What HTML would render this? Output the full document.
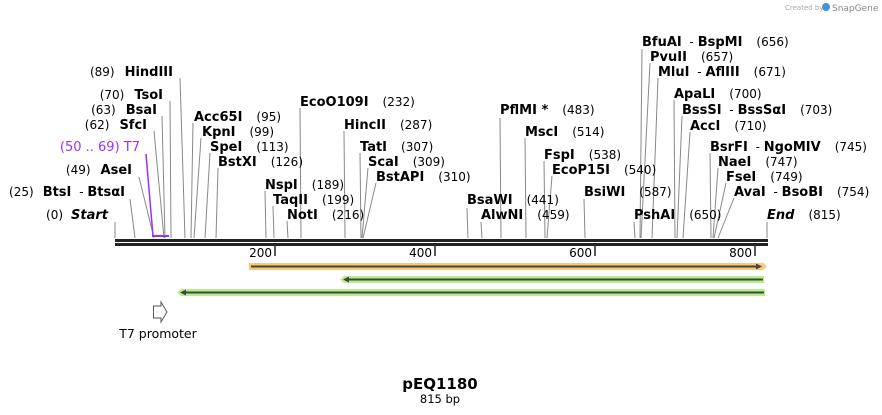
<!DOCTYPE html>
<html><head><meta charset="utf-8"><style>
body{margin:0;background:#fff}
svg{display:block}
text{font-family:"DejaVu Sans","Liberation Sans",sans-serif;fill:#000}
.n{font-weight:bold;font-size:13px}
.p{font-size:12px}
.l{stroke:#888;stroke-width:1}
</style></head><body>
<svg width="882" height="415" viewBox="0 0 882 415" xmlns="http://www.w3.org/2000/svg">
<text x="785" y="10" style="font-size:7px;fill:#aaa">Created by</text>
<circle cx="826" cy="7" r="4" fill="#4a90d9"/>
<text x="832" y="11" style="font-size:9px;fill:#888">SnapGene</text>

<g class="l">
<line x1="115" y1="222" x2="115" y2="238"/>
<line x1="130" y1="199" x2="135" y2="238"/>
<line x1="139" y1="177" x2="154" y2="238"/>
<line x1="154" y1="131" x2="164" y2="238"/>
<line x1="162" y1="116" x2="165" y2="238"/>
<line x1="170" y1="101" x2="171" y2="238"/>
<line x1="180" y1="78" x2="185" y2="238"/>
<line x1="193" y1="123" x2="191" y2="238"/>
<line x1="201" y1="138" x2="194" y2="238"/>
<line x1="210" y1="153" x2="205" y2="238"/>
<line x1="218" y1="168" x2="216" y2="238"/>
<line x1="265" y1="191" x2="266" y2="238"/>
<line x1="273" y1="206" x2="274" y2="238"/>
<line x1="287" y1="221" x2="288" y2="238"/>
<line x1="300" y1="108" x2="301" y2="238"/>
<line x1="344" y1="131" x2="345" y2="238"/>
<line x1="360" y1="153" x2="361" y2="238"/>
<line x1="368" y1="168" x2="362" y2="238"/>
<line x1="376" y1="183" x2="363" y2="238"/>
<line x1="467" y1="208" x2="468" y2="238"/>
<line x1="481" y1="222" x2="482" y2="238"/>
<line x1="500" y1="118" x2="501" y2="238"/>
<line x1="525" y1="138" x2="526" y2="238"/>
<line x1="544" y1="161" x2="545" y2="238"/>
<line x1="552" y1="176" x2="547" y2="238"/>
<line x1="584" y1="199" x2="585" y2="238"/>
<line x1="634" y1="222" x2="635" y2="238"/>
<line x1="642" y1="49" x2="640" y2="238"/>
<line x1="650" y1="63" x2="641" y2="238"/>
<line x1="658" y1="78" x2="652" y2="238"/>
<line x1="674" y1="100" x2="675" y2="238"/>
<line x1="682" y1="116" x2="677" y2="238"/>
<line x1="690" y1="132" x2="683" y2="238"/>
<line x1="710" y1="153" x2="711" y2="238"/>
<line x1="718" y1="168" x2="713" y2="238"/>
<line x1="726" y1="183" x2="714" y2="238"/>
<line x1="734" y1="198" x2="718" y2="238"/>
<line x1="767" y1="222" x2="767" y2="238"/>
</g>
<line x1="146" y1="154" x2="153" y2="236" stroke="#9b30ff" stroke-width="1.5"/>
<line x1="152" y1="236" x2="169" y2="236" stroke="#9b30ff" stroke-width="2"/>

<g text-anchor="end">
<text x="108" y="219"><tspan class="p">(0)</tspan><tspan class="n" font-style="italic" dx="8">Start</tspan></text>
<text x="125" y="196"><tspan class="p">(25)</tspan><tspan class="n" dx="9">BtsI</tspan><tspan class="p" dx="4"> - </tspan><tspan class="n">BtsαI</tspan></text>
<text x="132" y="174"><tspan class="p">(49)</tspan><tspan class="n" dx="10">AseI</tspan></text>
<text x="140" y="151" style="fill:#9b30ff;font-size:13px">(50 .. 69)  T7</text>
<text x="147" y="129"><tspan class="p">(62)</tspan><tspan class="n" dx="10">SfcI</tspan></text>
<text x="157" y="114"><tspan class="p">(63)</tspan><tspan class="n" dx="10">BsaI</tspan></text>
<text x="163" y="99"><tspan class="p">(70)</tspan><tspan class="n" dx="10">TsoI</tspan></text>
<text x="173" y="76"><tspan class="p">(89)</tspan><tspan class="n" dx="10">HindIII</tspan></text>
</g>
<g>
<text x="194" y="121"><tspan class="n">Acc65I</tspan><tspan class="p" dx="14">(95)</tspan></text>
<text x="202" y="136"><tspan class="n">KpnI</tspan><tspan class="p" dx="14">(99)</tspan></text>
<text x="210" y="151"><tspan class="n">SpeI</tspan><tspan class="p" dx="14">(113)</tspan></text>
<text x="218" y="166"><tspan class="n">BstXI</tspan><tspan class="p" dx="14">(126)</tspan></text>
<text x="265" y="189"><tspan class="n">NspI</tspan><tspan class="p" dx="14">(189)</tspan></text>
<text x="273" y="204"><tspan class="n">TaqII</tspan><tspan class="p" dx="14">(199)</tspan></text>
<text x="287" y="219"><tspan class="n">NotI</tspan><tspan class="p" dx="14">(216)</tspan></text>
<text x="300" y="106"><tspan class="n">EcoO109I</tspan><tspan class="p" dx="14">(232)</tspan></text>
<text x="344" y="129"><tspan class="n">HincII</tspan><tspan class="p" dx="14">(287)</tspan></text>
<text x="360" y="151"><tspan class="n">TatI</tspan><tspan class="p" dx="14">(307)</tspan></text>
<text x="368" y="166"><tspan class="n">ScaI</tspan><tspan class="p" dx="14">(309)</tspan></text>
<text x="376" y="181"><tspan class="n">BstAPI</tspan><tspan class="p" dx="14">(310)</tspan></text>
<text x="467" y="204"><tspan class="n">BsaWI</tspan><tspan class="p" dx="14">(441)</tspan></text>
<text x="481" y="219"><tspan class="n">AlwNI</tspan><tspan class="p" dx="14">(459)</tspan></text>
<text x="500" y="114"><tspan class="n">PflMI *</tspan><tspan class="p" dx="14">(483)</tspan></text>
<text x="525" y="136"><tspan class="n">MscI</tspan><tspan class="p" dx="14">(514)</tspan></text>
<text x="544" y="159"><tspan class="n">FspI</tspan><tspan class="p" dx="14">(538)</tspan></text>
<text x="552" y="174"><tspan class="n">EcoP15I</tspan><tspan class="p" dx="14">(540)</tspan></text>
<text x="584" y="196"><tspan class="n">BsiWI</tspan><tspan class="p" dx="14">(587)</tspan></text>
<text x="634" y="219"><tspan class="n">PshAI</tspan><tspan class="p" dx="14">(650)</tspan></text>
<text x="642" y="46"><tspan class="n">BfuAI</tspan><tspan class="p" dx="4"> - </tspan><tspan class="n">BspMI</tspan><tspan class="p" dx="14">(656)</tspan></text>
<text x="650" y="61"><tspan class="n">PvuII</tspan><tspan class="p" dx="14">(657)</tspan></text>
<text x="658" y="76"><tspan class="n">MluI</tspan><tspan class="p" dx="4"> - </tspan><tspan class="n">AflIII</tspan><tspan class="p" dx="14">(671)</tspan></text>
<text x="674" y="98"><tspan class="n">ApaLI</tspan><tspan class="p" dx="14">(700)</tspan></text>
<text x="682" y="114"><tspan class="n">BssSI</tspan><tspan class="p" dx="4"> - </tspan><tspan class="n">BssSαI</tspan><tspan class="p" dx="14">(703)</tspan></text>
<text x="690" y="130"><tspan class="n">AccI</tspan><tspan class="p" dx="14">(710)</tspan></text>
<text x="710" y="151"><tspan class="n">BsrFI</tspan><tspan class="p" dx="4"> - </tspan><tspan class="n">NgoMIV</tspan><tspan class="p" dx="14">(745)</tspan></text>
<text x="718" y="166"><tspan class="n">NaeI</tspan><tspan class="p" dx="14">(747)</tspan></text>
<text x="726" y="181"><tspan class="n">FseI</tspan><tspan class="p" dx="14">(749)</tspan></text>
<text x="734" y="196"><tspan class="n">AvaI</tspan><tspan class="p" dx="4"> - </tspan><tspan class="n">BsoBI</tspan><tspan class="p" dx="14">(754)</tspan></text>
<text x="767" y="219"><tspan class="n" font-style="italic">End</tspan><tspan class="p" dx="14">(815)</tspan></text>
</g>

<rect x="115" y="239" width="653" height="3" fill="#222"/>
<rect x="115" y="243" width="653" height="3" fill="#222"/>
<g stroke="#222" stroke-width="1.5">
<line x1="275" y1="246" x2="275" y2="256"/>
<line x1="435" y1="246" x2="435" y2="256"/>
<line x1="595" y1="246" x2="595" y2="256"/>
<line x1="755" y1="246" x2="755" y2="256"/>
</g>
<g class="p" text-anchor="end">
<text x="272" y="257">200</text><text x="432" y="257">400</text>
<text x="592" y="257">600</text><text x="752" y="257">800</text>
</g>

<rect x="249" y="263" width="513" height="7" fill="#f9c97a"/>
<polygon points="762,262 767,266.5 762,271" fill="#f9c97a"/>
<line x1="251" y1="266.5" x2="760" y2="266.5" stroke="#444" stroke-width="2"/>
<polygon points="756,263.5 762,266.5 756,269.5" fill="#444"/>

<rect x="345" y="276" width="419" height="7" fill="#b5ef8a"/>
<polygon points="345,275 340,279.5 345,284" fill="#b5ef8a"/>
<line x1="348" y1="279.5" x2="763" y2="279.5" stroke="#444" stroke-width="2"/>
<polygon points="349,276.5 343,279.5 349,282.5" fill="#444"/>

<rect x="182" y="289" width="583" height="7" fill="#b5ef8a"/>
<polygon points="182,288 177,292.5 182,297" fill="#b5ef8a"/>
<line x1="185" y1="292.5" x2="764" y2="292.5" stroke="#444" stroke-width="2"/>
<polygon points="186,289.5 180,292.5 186,295.5" fill="#444"/>

<polygon points="153.5,306 161,306 161,302 167,312 161,322 161,318 153.5,318" fill="#fff" stroke="#555" stroke-width="1"/>
<text x="158" y="338" text-anchor="middle" style="font-size:12.5px">T7 promoter</text>

<text x="440" y="389" text-anchor="middle" style="font-size:15px;font-weight:bold">pEQ1180</text>
<text x="440" y="403" text-anchor="middle" style="font-size:11.5px">815 bp</text>
</svg>
</body></html>
